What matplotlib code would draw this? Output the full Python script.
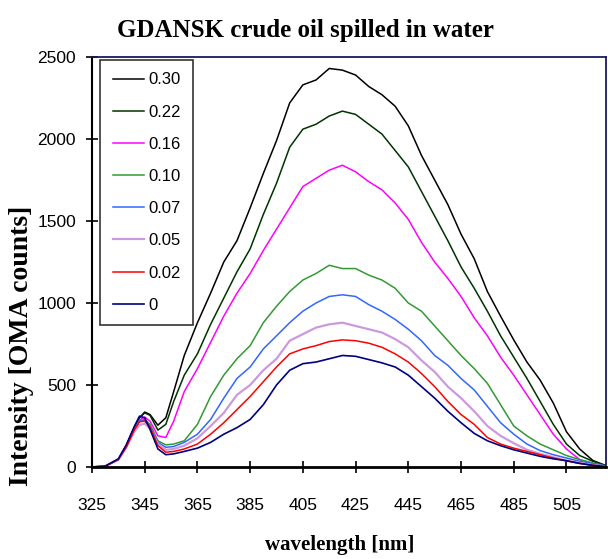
import matplotlib
matplotlib.use("Agg")
import matplotlib.pyplot as plt

# wavelength grid [nm]
wavelength = [325, 330, 335, 338, 341, 343, 345, 347, 350, 353, 356, 360, 365, 370, 375,
              380, 385, 390, 395, 400, 405, 410, 415, 420, 425, 430, 435, 440, 445, 450,
              455, 460, 465, 470, 475, 480, 485, 490, 495, 500, 505, 510, 515, 520]

i_030 = [0, 5, 45, 130, 240, 300, 335, 320, 255, 300, 460, 680, 880, 1060, 1250,
         1380, 1580, 1790, 1990, 2220, 2330, 2360, 2430, 2420, 2390, 2320, 2270, 2200, 2080, 1900,
         1750, 1600, 1420, 1270, 1070, 920, 775, 640, 530, 390, 215, 110, 40, 8]
i_022 = [0, 5, 45, 130, 240, 300, 330, 315, 225, 260, 400, 560, 690, 870, 1030,
         1190, 1330, 1540, 1730, 1950, 2060, 2090, 2140, 2170, 2150, 2090, 2030, 1930, 1830, 1680,
         1530, 1380, 1220, 1090, 950, 800, 670, 540, 400, 260, 140, 70, 35, 8]
i_016 = [0, 5, 45, 125, 230, 285, 305, 280, 190, 180, 280, 460, 600, 760, 920,
         1060, 1180, 1320, 1450, 1580, 1710, 1760, 1810, 1840, 1800, 1740, 1690, 1610, 1510, 1370,
         1250, 1150, 1040, 910, 800, 670, 560, 440, 320, 200, 110, 45, 20, 5]
i_010 = [0, 5, 45, 125, 225, 280, 290, 260, 160, 135, 140, 160, 260, 430, 560,
         660, 740, 880, 980, 1070, 1140, 1180, 1230, 1210, 1210, 1170, 1140, 1090, 1000, 950,
         860, 770, 680, 600, 510, 380, 250, 190, 140, 105, 70, 45, 25, 5]
i_007 = [0, 5, 45, 125, 225, 280, 285, 250, 150, 120, 125, 150, 200, 290, 420,
         540, 610, 720, 800, 880, 950, 1000, 1040, 1050, 1040, 990, 950, 900, 840, 770,
         680, 620, 540, 470, 370, 270, 200, 140, 100, 75, 55, 35, 20, 5]
i_005 = [0, 5, 45, 120, 215, 255, 265, 235, 140, 105, 110, 130, 175, 250, 330,
         440, 500, 590, 660, 770, 810, 850, 870, 880, 860, 840, 820, 780, 730, 650,
         580, 490, 420, 340, 250, 190, 145, 105, 80, 60, 40, 25, 12, 3]
i_002 = [0, 5, 45, 120, 225, 275, 280, 245, 130, 90, 95, 110, 140, 200, 270,
         350, 430, 520, 610, 690, 720, 740, 765, 775, 770, 755, 730, 690, 640, 570,
         490, 400, 320, 260, 180, 140, 115, 95, 75, 55, 38, 22, 10, 2]
i_000 = [0, 5, 50, 135, 245, 310, 300, 230, 110, 75, 80, 95, 115, 150, 200,
         240, 290, 380, 500, 590, 630, 640, 660, 680, 675, 655, 635, 610, 560, 490,
         420, 340, 270, 205, 160, 130, 105, 85, 65, 50, 38, 22, 10, 2]

labels = ["0.30", "0.22", "0.16", "0.10", "0.07", "0.05", "0.02", "0"]
series = [i_030, i_022, i_016, i_010, i_007, i_005, i_002, i_000]
colors = ["#000000", "#003300", "#FF00FF", "#339933", "#3366FF", "#CC99DD", "#FF0000", "#000080"]
widths = [1.1, 1.1, 1.1, 1.1, 1.1, 1.6, 1.1, 1.2]

fig = plt.figure(figsize=(6.08, 5.59), dpi=100)
ax = fig.add_axes([92 / 608, 92 / 559, 514 / 608, 410 / 559])

for y, lab, c, lw in zip(series, labels, colors, widths):
    ax.plot(wavelength, y, color=c, lw=lw, label=lab)

ax.set_xlim(325, 520)
ax.set_ylim(0, 2500)
ax.set_xticks(range(325, 506, 20))
ax.set_yticks(range(0, 2501, 500))

for t in ax.get_xticklabels() + ax.get_yticklabels():
    t.set_fontfamily("Liberation Sans")
    t.set_fontsize(12.5)
ax.tick_params(axis="both", direction="inout", length=9, width=1.2, color="black")
ax.tick_params(axis="x", pad=18)
ax.tick_params(axis="y", pad=7)

ax.spines["left"].set_color("black")
ax.spines["bottom"].set_color("black")
ax.spines["left"].set_linewidth(1.5)
ax.spines["bottom"].set_linewidth(2)
ax.spines["top"].set_color("#1a1a60")
ax.spines["right"].set_color("#1a1a60")
ax.spines["top"].set_linewidth(1.3)
ax.spines["right"].set_linewidth(1.3)

leg = ax.legend(loc="upper left", bbox_to_anchor=(8 / 514, 407 / 410), borderaxespad=0,
                prop={"family": "Liberation Sans", "size": 12}, frameon=True, fancybox=False,
                edgecolor="black", labelspacing=1.03, handlelength=1.9, handletextpad=0.25,
                borderpad=0.75)
leg.get_frame().set_linewidth(1.2)

fig.text(305 / 608, 1 - 30 / 559, "GDANSK crude oil spilled in water", ha="center", va="center",
         family="Liberation Serif", weight="bold", size=18)
fig.text(340 / 608, 1 - 545 / 559, "wavelength [nm]", ha="center", va="center",
         family="Liberation Serif", weight="bold", size=15)
fig.text(22 / 608, 1 - 346 / 559, "Intensity [OMA counts]", ha="center", va="center",
         rotation=90, family="Liberation Serif", weight="bold", size=20)

fig.savefig("out.png", dpi=100)
